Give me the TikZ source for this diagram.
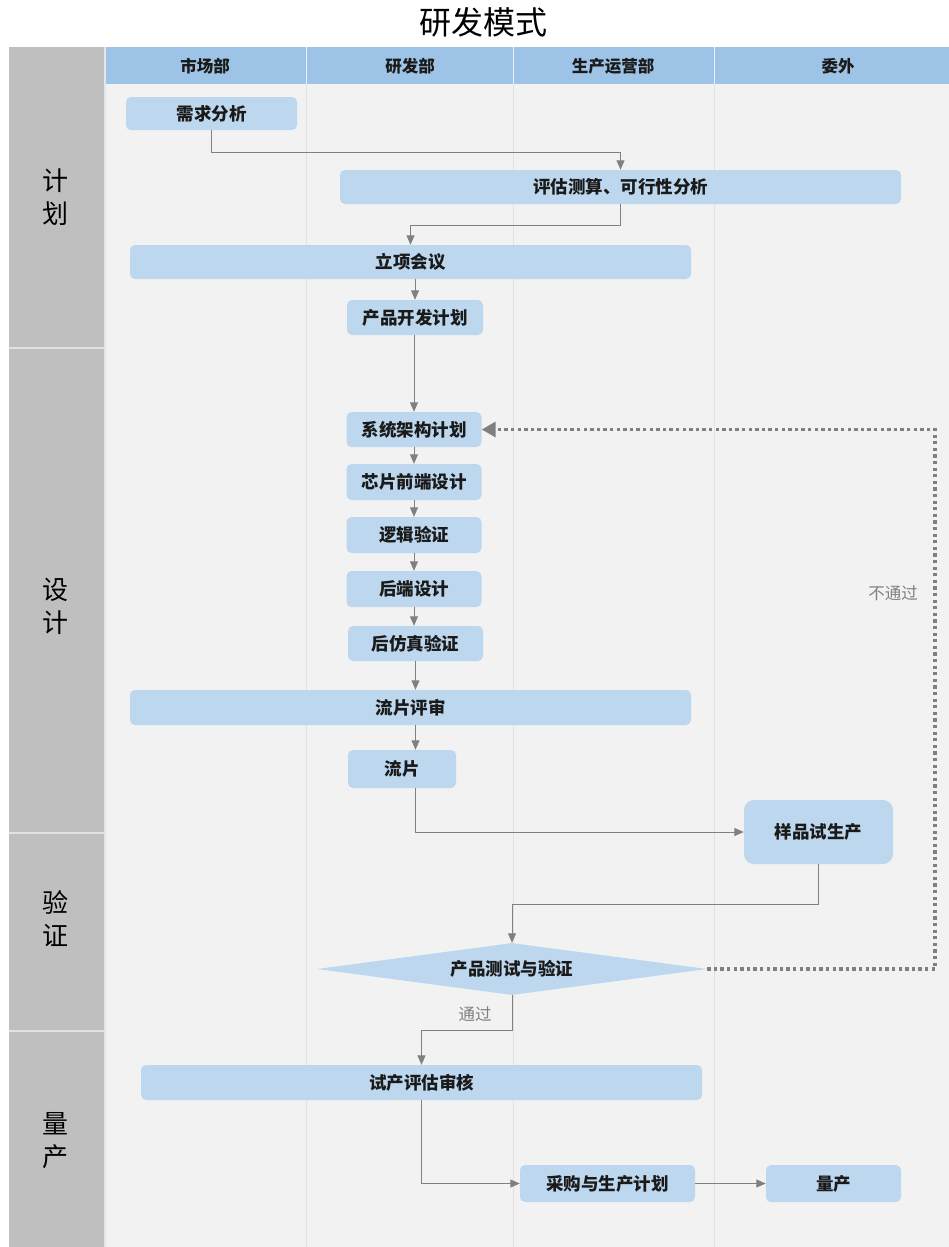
\documentclass[tikz,border=0pt]{standalone}
\usepackage{fontspec}
\newfontfamily\cjk{Noto Sans CJK SC}
\usetikzlibrary{arrows.meta,shapes.geometric}
\definecolor{nodeblue}{HTML}{BDD7EE}
\definecolor{headblue}{HTML}{9DC3E6}
\definecolor{sidegray}{HTML}{BFBFBF}
\definecolor{bodygray}{HTML}{F2F2F2}
\definecolor{lanegray}{HTML}{E2E2E2}
\definecolor{linegray}{HTML}{808080}
\definecolor{txt}{HTML}{1A1A1A}
\begin{document}
\begin{tikzpicture}[x=1pt,y=-1pt,
  box/.style={fill=nodeblue, rounded corners=5pt, inner sep=0pt, text=txt,
    font=\cjk\bfseries\fontsize{17.5}{20}\selectfont},
  headtxt/.style={inner sep=0pt, text=txt, font=\cjk\bfseries\fontsize{16.5}{20}\selectfont},
  phase/.style={inner sep=0pt, text=black, align=center,
    font=\cjk\fontsize{26}{33}\selectfont},
  flow/.style={draw=linegray, line width=1pt, -{Triangle[length=9.5pt,width=8pt]}},
  nolink/.style={draw=linegray, line width=3.3pt, dash pattern=on 3.3pt off 3.3pt,
    -{Triangle[length=14pt,width=15pt]}},
  lbl/.style={inner sep=0pt, text=linegray, font=\cjk\fontsize{16.5}{20}\selectfont}]
\useasboundingbox (0,0) rectangle (949,1247);
\fill[white] (0,0) rectangle (949,1247);
% title
\node[inner sep=0pt, font=\cjk\fontsize{32}{36}\selectfont] (title) at (483,22) {研发模式};
% frame
\fill[sidegray] (9,47) rectangle (104,1247);
\fill[bodygray] (104,84) rectangle (949,1247);
\fill[headblue] (104,47) rectangle (949,84);
\foreach \x in {306,513,714} {
  \draw[lanegray, line width=1pt] (\x,84) -- (\x,1247);
  \draw[white!80!headblue, line width=1pt] (\x,47) -- (\x,84);
}
\draw[white!60!sidegray, line width=2pt] (105,47) -- (105,1247);
\foreach \y in {348,833,1031}
  \draw[white!55!sidegray, line width=2pt] (9,\y) -- (104,\y);
% header texts
\node[headtxt] (h1) at (205,66) {市场部};
\node[headtxt] (h2) at (410,66) {研发部};
\node[headtxt] (h3) at (613,66) {生产运营部};
\node[headtxt] (h4) at (838,66) {委外};
% phases
\node[phase] (p1) at (55,197) {计\\划};
\node[phase] (p2) at (55,606) {设\\计};
\node[phase] (p3) at (55,919) {验\\证};
\node[phase] (p4) at (55,1141) {量\\产};
% nodes
\node[box, minimum width=171pt, minimum height=33pt] (xq) at (211.5,113.5) {需求分析};
\node[box, minimum width=561pt, minimum height=34pt] (pg) at (620.5,187) {评估测算、可行性分析};
\node[box, minimum width=561pt, minimum height=34pt] (lx) at (410.5,262) {立项会议};
\node[box, minimum width=136pt, minimum height=35pt] (cp) at (415,317.5) {产品开发计划};
\node[box, minimum width=135pt, minimum height=35pt] (xt) at (414,429.5) {系统架构计划};
\node[box, minimum width=135pt, minimum height=36pt] (xp) at (414,482) {芯片前端设计};
\node[box, minimum width=135pt, minimum height=36pt] (lj) at (414,535) {逻辑验证};
\node[box, minimum width=135pt, minimum height=36pt] (hd) at (414,589) {后端设计};
\node[box, minimum width=135pt, minimum height=35pt] (hf) at (415.5,643.5) {后仿真验证};
\node[box, minimum width=561pt, minimum height=35pt] (lp) at (410.5,707.5) {流片评审};
\node[box, minimum width=108pt, minimum height=38pt] (ls) at (402,769) {流片};
\node[box, rounded corners=10pt, minimum width=149pt, minimum height=64pt] (yp) at (818.5,832) {样品试生产};
\node[box, rounded corners=0pt, shape=diamond, shape aspect=7.5, minimum width=390pt, minimum height=52pt] (cs) at (512,969) {产品测试与验证};
\node[box, minimum width=561pt, minimum height=35pt] (sc) at (421.5,1082.5) {试产评估审核};
\node[box, minimum width=175pt, minimum height=37pt] (cg) at (607.5,1183.5) {采购与生产计划};
\node[box, minimum width=135pt, minimum height=37pt] (lc) at (833.5,1183.5) {量产};
% connectors
\draw[flow] (xq.south) -- ++(0,22) -| (pg.north);
\draw[flow] (pg.south) -- ++(0,21) -| (lx.north);
\draw[flow] (cp.north |- lx.south) -- (cp.north);
\draw[flow] (cp.south -| xt.north) -- (xt.north);
\draw[flow] (xt.south) -- (xp.north);
\draw[flow] (xp.south) -- (lj.north);
\draw[flow] (lj.south) -- (hd.north);
\draw[flow] (hd.south) -- (hd.south |- hf.north);
\draw[flow] (hf.south) -- (hf.south |- lp.north);
\draw[flow] (hf.south |- lp.south) -- (hf.south |- ls.north);
\draw[flow] (hf.south |- ls.south) |- (yp.west);
\draw[flow] (yp.south) -- ++(0,40) -| (cs.north);
\draw[flow] (cs.south) -- ++(0,35) -| (sc.north);
\draw[flow] (sc.south) |- (cg.west);
\draw[flow] (cg.east) -- (lc.west);
\coordinate (fb) at (935,429.5);
\draw[nolink] (cs.east) -| (fb) -- (xt.east);
\node[lbl] (ntg) at (893,593) {不通过};
\node[lbl] (tg) at (475,1014) {通过};
\end{tikzpicture}
\end{document}
